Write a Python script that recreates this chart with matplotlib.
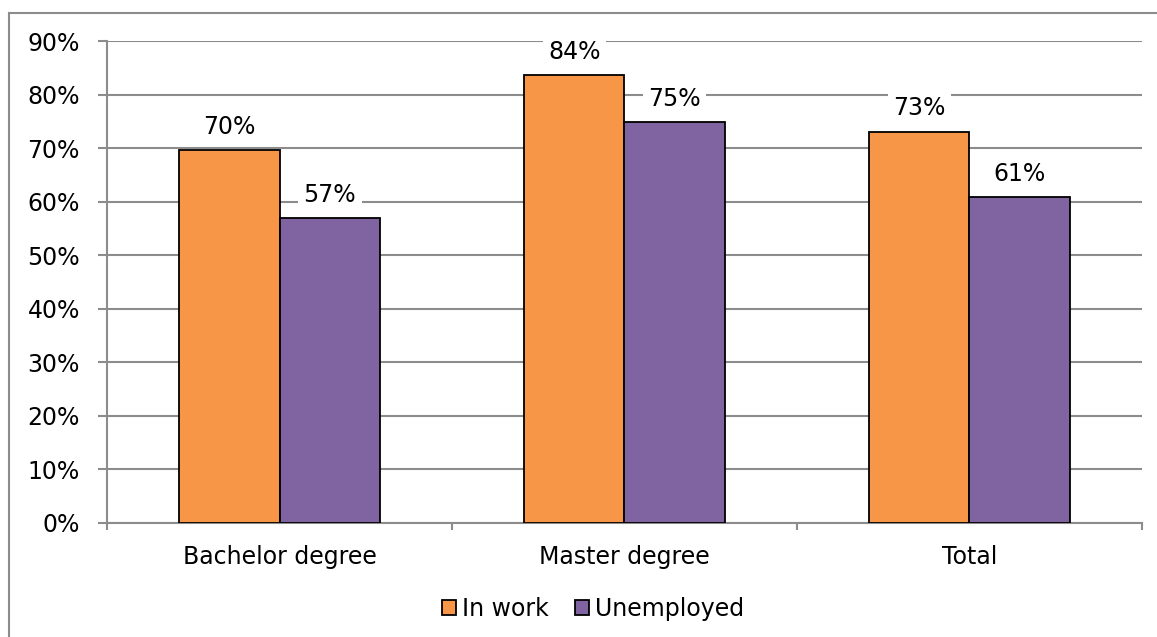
import matplotlib.pyplot as plt
import numpy as np
from matplotlib.lines import Line2D
from matplotlib.patches import Patch

categories = ["Bachelor degree", "Master degree", "Total"]
in_work = [69.6, 83.6, 73.1]
unemployed = [56.9, 74.8, 60.8]
in_work_labels = ["70%", "84%", "73%"]
unemployed_labels = ["57%", "75%", "61%"]
series_names = ["In work", "Unemployed"]

orange = "#F79646"
purple = "#8064A2"
grey = "#8C8C8C"
fs = 17

plt.rcParams["font.family"] = ["DejaVu Sans"]

fig = plt.figure(figsize=(11.57, 6.37), dpi=100)
ax = fig.add_axes([0.0925, 0.179, 0.8945, 0.7566])

# outer chart frame (only top and left visible in the crop)
fig.add_artist(Line2D([9 / 1157, 9 / 1157], [0, 1 - 13 / 637], color=grey, lw=1.5))
fig.add_artist(Line2D([9 / 1157, 1], [1 - 13 / 637, 1 - 13 / 637], color=grey, lw=1.5))

x = np.arange(len(categories))
w = 0.29

b1 = ax.bar(x - w / 2, in_work, w, color=orange, edgecolor="black", linewidth=1.3, zorder=3)
b2 = ax.bar(x + w / 2, unemployed, w, color=purple, edgecolor="black", linewidth=1.3, zorder=3)

for bars, labels in [(b1, in_work_labels), (b2, unemployed_labels)]:
    for rect, lab in zip(bars, labels):
        ax.annotate(lab, (rect.get_x() + rect.get_width() / 2, rect.get_height()),
                    xytext=(0, 8), textcoords="offset points", ha="center", va="bottom",
                    fontsize=fs, zorder=4,
                    bbox=dict(facecolor="white", edgecolor="none", pad=4))

ax.set_xlim(-0.5, len(categories) - 0.5)
ax.set_ylim(0, 90)
ax.set_yticks(np.arange(0, 91, 10))
ax.set_yticklabels([f"{v}%" for v in range(0, 91, 10)])
ax.yaxis.grid(True, color=grey, linewidth=1.5, zorder=0)
ax.set_axisbelow(True)

ax.set_xticks(x)
ax.set_xticklabels(categories)
ax.set_xticks(np.arange(-0.5, len(categories), 1), minor=True)
ax.tick_params(axis="x", which="major", length=0, pad=16, labelsize=fs)
ax.tick_params(axis="x", which="minor", length=5, width=1.5, color=grey, direction="out")
ax.tick_params(axis="y", length=6.5, width=1.5, color=grey, pad=13, labelsize=fs)

for s in ["top", "right"]:
    ax.spines[s].set_visible(False)
for s in ["left", "bottom"]:
    ax.spines[s].set_color(grey)
    ax.spines[s].set_linewidth(1.5)

handles = [Patch(facecolor=orange, edgecolor="black", linewidth=1.3),
           Patch(facecolor=purple, edgecolor="black", linewidth=1.3)]
fig.legend(handles, series_names, loc="center", bbox_to_anchor=(593 / 1157, 1 - 609 / 637),
           ncol=2, frameon=False, fontsize=fs, handlelength=0.6, handleheight=0.6,
           handletextpad=0.25, columnspacing=1.1)

fig.savefig("out.png", dpi=100)
